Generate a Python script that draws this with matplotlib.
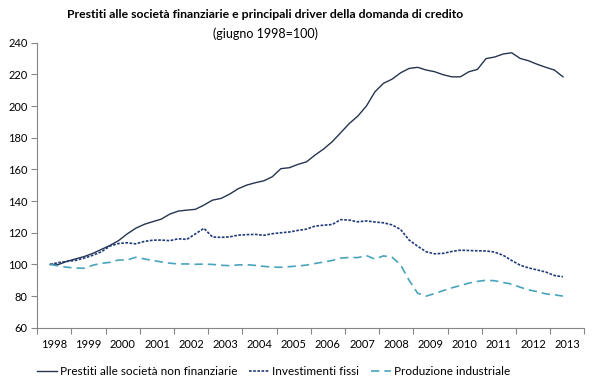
import pandas as pd
import matplotlib.pyplot as plt
import numpy as np

# trimestri da giugno 1998 a giugno 2013
periods = pd.period_range('1998Q2', '2013Q2', freq='Q')
years = list(range(1998, 2014))

prestiti = [100, 100, 102, 103.5, 105, 107, 109.5,
            112, 115, 119.2, 122.8, 125.3, 127, 128.6, 131.8,
            133.7, 134.3, 134.8, 137.5, 140.6, 141.7, 144.4, 147.8,
            150.1, 151.6, 152.8, 155.4, 160.5, 161.1, 163.2, 164.8,
            169.1, 172.9, 177.5, 183.2, 189, 193.7, 200, 209,
            214.4, 217, 221, 223.8, 224.5, 222.8, 221.7, 219.8,
            218.5, 218.5, 221.7, 223.2, 230, 231, 232.9, 233.7,
            230.1, 228.6, 226.4, 224.5, 222.8, 218.5]

investimenti = [100, 101.2, 101.9, 102.6, 104, 105.8, 108,
                111.6, 113.2, 113.7, 113, 114.5, 115.3, 115.4, 115,
                116.2, 115.8, 119.3, 122.8, 117.3, 117.1, 117.4, 118.5,
                118.8, 119, 118.4, 119.4, 120, 120.5, 121.5, 122.3,
                124.2, 124.8, 125.2, 128.3, 128, 126.9, 127.5, 126.8,
                126.3, 125, 122.1, 115.4, 111.5, 108, 106.7, 107,
                108.2, 109, 108.8, 108.6, 108.5, 107.8, 105.8, 102.5,
                99.5, 97.8, 96.5, 95.2, 93, 92.2]

produzione = [100, 99, 98.2, 97.7, 97.6, 99.5, 100.7,
              101.3, 102.8, 102.8, 104.5, 103.5, 102.5, 101.6, 100.8,
              100.3, 100.3, 100.1, 100.2, 100, 99.5, 99.2, 99.7,
              99.8, 99.4, 98.8, 98.3, 98.2, 98.6, 99, 99.6,
              100.6, 101.5, 102.5, 104, 104.4, 104.3, 105.6, 103.4,
              105.4, 104.6, 99.8, 90, 81.8, 80, 81.6, 83.5,
              85.2, 86.7, 88.2, 89.3, 90, 89.7, 88.6, 87.6,
              85.6, 83.9, 82.8, 81.4, 80.8, 80]

labels = ['Prestiti alle società non finanziarie', 'Investimenti fissi', 'Produzione industriale']

plt.rcParams['font.family'] = ['Lato', 'DejaVu Sans']

# posizione al centro di ciascun trimestre
x = np.array([p.year + (p.quarter - 1) / 4 + 0.125 for p in periods])

fig = plt.figure(figsize=(5.92, 3.82), dpi=100)
ax = fig.add_axes([0.063, 0.142, 0.924, 0.746])

ax.plot(x, prestiti, color='#26344f', lw=1.0, linestyle='-', label=labels[0])
ax.plot(x, investimenti, color='#1f3a7a', lw=1.2, linestyle=(0, (1.6, 0.9)), label=labels[1])
ax.plot(x, produzione, color='#4aa3bd', lw=1.2, linestyle=(0, (5, 3)), label=labels[2])

ax.set_xlim(years[0], years[-1] + 1)
ax.set_ylim(60, 240)
ax.set_yticks(range(60, 241, 20))

ax.set_xticks(years + [years[-1] + 1])
ax.set_xticklabels([])
ax.set_xticks([y + 0.5 for y in years], minor=True)
ax.set_xticklabels([str(y) for y in years], minor=True)
ax.tick_params(axis='x', which='minor', length=0, pad=8, labelsize=8)
ax.tick_params(axis='x', which='major', length=4, color='#868686', direction='out')
ax.tick_params(axis='y', length=4, color='#868686', labelsize=8, pad=3)

for s in ['top', 'right']:
    ax.spines[s].set_visible(False)
for s in ['left', 'bottom']:
    ax.spines[s].set_color('#868686')

fig.text(0.448, 0.962, 'Prestiti alle società finanziarie e principali driver della domanda di credito',
         ha='center', va='center', fontsize=8.8, fontweight='bold')
fig.text(0.448, 0.912, '(giugno 1998=100)', ha='center', va='center', fontsize=9)

fig.legend(loc='center', bbox_to_anchor=(0.462, 0.028), ncol=3, frameon=False,
           fontsize=8.5, handlelength=1.7, columnspacing=1.0, handletextpad=0.25)

plt.savefig('out.png', dpi=100)
